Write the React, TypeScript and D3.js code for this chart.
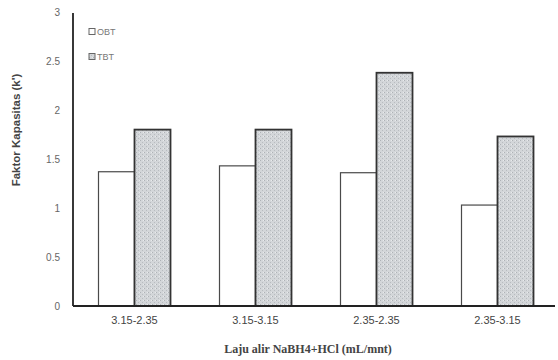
import React from "react";
import * as d3 from "d3";

const categories = ["3.15-2.35", "3.15-3.15", "2.35-2.35", "2.35-3.15"];
const seriesNames = ["OBT", "TBT"];
const obtValues = [1.37, 1.43, 1.36, 1.03];
const tbtValues = [1.8, 1.8, 2.38, 1.73];
const yTicks = [0, 0.5, 1, 1.5, 2, 2.5, 3];

export default function App() {
  const W = 558, H = 360;
  const x0 = 74, x1 = 558, yTop = 12, yBot = 306;
  const x = d3.scaleBand<string>().domain(categories).range([x0, x1]).paddingInner(0).paddingOuter(0);
  const y = d3.scaleLinear().domain([0, 3]).range([yBot, yTop]);
  const bw = 36;
  const series = [obtValues, tbtValues];
  const strokes = ["#4a4a4a", "#333333"];
  return (
    <svg width={W} height={H} style={{ position: "absolute", left: 0, top: 0, background: "#fff" }}
      fontFamily="Liberation Sans, Arial, sans-serif">
      <defs>
        <pattern id="stip" width="4" height="4" patternUnits="userSpaceOnUse">
          <rect width="4" height="4" fill="#d3d6d9" />
          <rect x="0" y="0" width="1" height="1" fill="#aeb2b6" />
          <rect x="2" y="2" width="1" height="1" fill="#b8bcc0" />
          <rect x="3" y="0" width="1" height="1" fill="#e8eaec" />
        </pattern>
      </defs>
      {categories.map((c, i) => {
        const cx = (x(c) as number) + x.bandwidth() / 2;
        return series.map((s, k) => {
          const bx = k === 0 ? cx - bw : cx;
          return (
            <rect key={c + k} x={bx} y={y(s[i])} width={bw} height={yBot - y(s[i])}
              fill={k === 0 ? "#ffffff" : "url(#stip)"} stroke={strokes[k]} strokeWidth={k === 0 ? 1.2 : 1.8} />
          );
        });
      })}
      <line x1={x0 - 1} x2={x0 - 1} y1={yTop + 1} y2={yBot} stroke="#222" strokeWidth={1.8} />
      <line x1={x0 - 1} x2={555} y1={yBot} y2={yBot} stroke="#222" strokeWidth={1.8} />
      {yTicks.map((t) => (
        <text key={t} x={60} y={y(t) + 4} textAnchor="end" fontSize={10} fill="#666">{t}</text>
      ))}
      {categories.map((c) => (
        <text key={c} x={(x(c) as number) + x.bandwidth() / 2} y={324} textAnchor="middle" fontSize={11} fill="#444">{c}</text>
      ))}
      {seriesNames.map((n, k) => (
        <g key={n} transform={`translate(89, ${32 + k * 25})`}>
          <rect x={0} y={-3.5} width={6} height={6} fill={k === 0 ? "#fff" : "url(#stip)"} stroke="#666" strokeWidth={1} />
          <text x={8} y={3} fontSize={9} fill="#777">{n}</text>
        </g>
      ))}
      <text transform="translate(20,130) rotate(-90)" textAnchor="middle" fontSize={11.5} fontWeight="bold"
        fill="#444">Faktor Kapasitas (k')</text>
      <text x={308} y={353} textAnchor="middle" fontSize={12} fontWeight="bold" fill="#444"
        fontFamily="Liberation Serif, Times New Roman, serif">Laju alir NaBH4+HCl (mL/mnt)</text>
    </svg>
  );
}
